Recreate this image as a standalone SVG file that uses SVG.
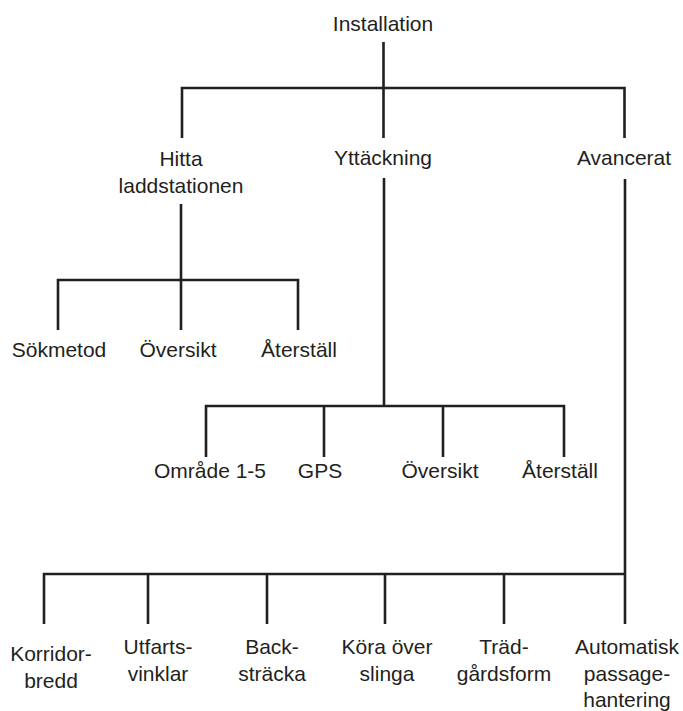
<svg xmlns="http://www.w3.org/2000/svg" width="683" height="711" viewBox="0 0 683 711">
<style>
  .c { fill: none; stroke: #231f20; stroke-width: 2.6; stroke-linecap: butt; stroke-linejoin: miter; }
  text { font-family: "Liberation Sans", Arial, sans-serif; font-size: 21px; fill: #231f20; text-anchor: middle; }
</style>
<rect width="683" height="711" fill="#ffffff"/>
<g id="connectors">
  <path class="c" d="M383.5 42 V88 M182 138 V88 H624.5 V138 M383.5 88 V138"/>
  <path class="c" d="M181 204 V280 M58 330 V280 H298 V330 M181 280 V330"/>
  <path class="c" d="M384 178 V406 M206 457 V406 H564 V457 M324 406 V457 M443 406 V457"/>
  <path class="c" d="M625 179 V624 M44 624 V574 H625 M148 574 V624 M267 574 V624 M385 574 V624 M504 574 V624"/>
</g>
<g id="n-installation"><text x="383" y="31">Installation</text></g>
<g id="n-hitta"><text x="181" y="166">Hitta</text><text x="181" y="193">laddstationen</text></g>
<g id="n-yttackning"><text x="383" y="165">Yttäckning</text></g>
<g id="n-avancerat"><text x="624" y="165">Avancerat</text></g>
<g id="n-sokmetod"><text x="59" y="357">Sökmetod</text></g>
<g id="n-oversikt1"><text x="178" y="357">Översikt</text></g>
<g id="n-aterstall1"><text x="299" y="357">Återställ</text></g>
<g id="n-omrade"><text x="210" y="478">Område 1-5</text></g>
<g id="n-gps"><text x="320" y="478">GPS</text></g>
<g id="n-oversikt2"><text x="440" y="478">Översikt</text></g>
<g id="n-aterstall2"><text x="560" y="478">Återställ</text></g>
<g id="n-korridor"><text x="51" y="661">Korridor-</text><text x="51" y="688">bredd</text></g>
<g id="n-utfarts"><text x="158" y="654">Utfarts-</text><text x="158" y="681">vinklar</text></g>
<g id="n-back"><text x="272" y="654">Back-</text><text x="272" y="681">sträcka</text></g>
<g id="n-kora"><text x="387" y="654">Köra över</text><text x="387" y="681">slinga</text></g>
<g id="n-trad"><text x="504" y="654">Träd-</text><text x="504" y="681">gårdsform</text></g>
<g id="n-automatisk"><text x="627" y="654">Automatisk</text><text x="627" y="680.5">passage-</text><text x="627" y="707">hantering</text></g>
</svg>
